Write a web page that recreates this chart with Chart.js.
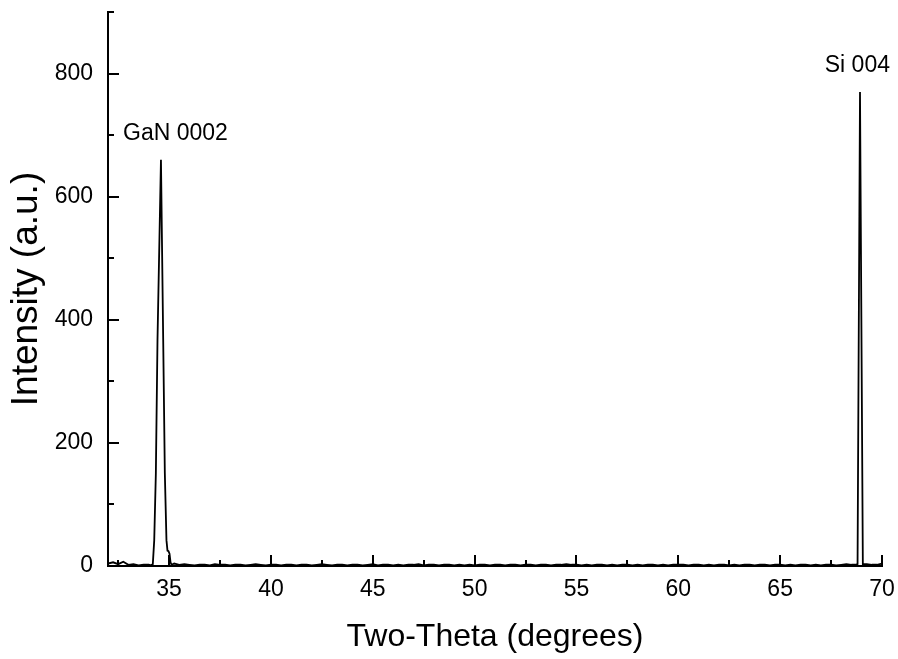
<!DOCTYPE html>
<html>
<head>
<meta charset="utf-8">
<script src="https://cdn.jsdelivr.net/npm/chart.js@4/dist/chart.umd.min.js"></script>
<style>
html,body{margin:0;padding:0;background:#fff;}
#wrap{width:898px;height:659px;}
</style>
</head>
<body>
<div id="wrap"><canvas id="c" width="898" height="659"></canvas></div>
<script>
// ---- data ----
const twoTheta = [
  32.00,32.25,32.50,32.75,33.00,33.25,33.50,33.75,34.00,34.10,
  34.20,34.27,34.35,34.43,34.60,34.71,34.79,34.87,34.92,34.97,35.02,35.07,35.12,
  35.25,35.50,35.75,36.00,36.25,36.50,36.75,37.00,37.25,37.50,37.75,38.00,38.25,38.50,38.75,39.00,39.25,39.50,39.75,
  40.00,40.25,40.50,40.75,41.00,41.25,41.50,41.75,42.00,42.25,42.50,42.75,43.00,43.25,43.50,43.75,44.00,44.25,44.50,44.75,
  45.00,45.25,45.50,45.75,46.00,46.25,46.50,46.75,47.00,47.25,47.50,47.75,48.00,48.25,48.50,48.75,49.00,49.25,49.50,49.75,
  50.00,50.25,50.50,50.75,51.00,51.25,51.50,51.75,52.00,52.25,52.50,52.75,53.00,53.25,53.50,53.75,54.00,54.25,54.50,54.75,
  55.00,55.25,55.50,55.75,56.00,56.25,56.50,56.75,57.00,57.25,57.50,57.75,58.00,58.25,58.50,58.75,59.00,59.25,59.50,59.75,
  60.00,60.25,60.50,60.75,61.00,61.25,61.50,61.75,62.00,62.25,62.50,62.75,63.00,63.25,63.50,63.75,64.00,64.25,64.50,64.75,
  65.00,65.25,65.50,65.75,66.00,66.25,66.50,66.75,67.00,67.25,67.50,67.75,68.00,68.25,68.50,68.70,
  68.80,68.92,69.06,
  69.25,69.50,69.75,70.00
];
const intensity = [
  4,6,3,7,2,3,1,2,2,1,
  3,42,151,367,660,367,151,42,25,24,20,6,2,
  4,2,3,2,1,2,2,1,3,2,2,1,2,2,1,2,3,2,1,
  2,2,1,2,2,1,2,2,1,2,3,2,1,2,2,1,2,2,1,2,
  3,1,2,2,1,2,1,2,2,3,1,2,2,1,2,2,1,2,1,2,
  1,2,2,1,2,2,1,2,2,1,2,2,1,2,2,1,2,2,3,2,
  2,1,2,1,2,2,1,2,1,2,2,1,2,1,2,2,1,2,1,2,
  2,2,1,2,2,1,2,1,2,2,1,2,1,2,2,1,2,2,1,2,
  2,1,2,1,2,2,1,2,1,2,2,1,2,3,2,2,
  3,770,3,
  3,2,2,4
];
const xTicks = [35,40,45,50,55,60,65,70];
const xMinorTicks = [32.5,37.5,42.5,47.5,52.5,57.5,62.5,67.5];
const yTicks = [0,200,400,600,800];
const yMinorTicks = [100,300,500,700,900];
const peakLabels = ['GaN 0002','Si 004'];
const peakLabelX = [35.31,68.79];
const peakLabelY = [692,802];

const FONT = '"Liberation Sans", Arial, Helvetica, sans-serif';
Chart.defaults.font.family = FONT;
Chart.defaults.color = '#000';

const inwardTicks = {
  id: 'inwardTicks',
  afterDraw(chart) {
    const ctx = chart.ctx, xs = chart.scales.x, ys = chart.scales.y, a = chart.chartArea;
    ctx.save();
    ctx.strokeStyle = '#000';
    ctx.lineWidth = 2;
    ctx.beginPath();
    xTicks.forEach(v => { const p = Math.round(xs.getPixelForValue(v)); ctx.moveTo(p, a.bottom); ctx.lineTo(p, a.bottom - 11); });
    xMinorTicks.forEach(v => { const p = Math.round(xs.getPixelForValue(v)); ctx.moveTo(p, a.bottom); ctx.lineTo(p, a.bottom - 6); });
    yTicks.forEach(v => { const p = Math.round(ys.getPixelForValue(v)); ctx.moveTo(a.left, p); ctx.lineTo(a.left + 11, p); });
    yMinorTicks.forEach(v => { const p = Math.round(ys.getPixelForValue(v)); ctx.moveTo(a.left, p); ctx.lineTo(a.left + 6, p); });
    ctx.stroke();
    ctx.fillStyle = '#000';
    ctx.font = '23px ' + FONT;
    ctx.textAlign = 'center';
    ctx.textBaseline = 'alphabetic';
    peakLabels.forEach((t, i) => {
      ctx.fillText(t, xs.getPixelForValue(peakLabelX[i]), ys.getPixelForValue(peakLabelY[i]));
    });
    ctx.restore();
  }
};

new Chart(document.getElementById('c'), {
  type: 'line',
  data: {
    datasets: [{
      data: twoTheta.map((t, i) => ({x: t, y: intensity[i]})),
      borderColor: '#000',
      borderWidth: 1.8,
      pointRadius: 0,
      tension: 0,
      fill: false
    }]
  },
  options: {
    responsive: false,
    animation: false,
    devicePixelRatio: 1,
    layout: {padding: {left: 0, right: 16, top: 12, bottom: 0}},
    plugins: {legend: {display: false}, tooltip: {enabled: false}},
    scales: {
      x: {
        type: 'linear', min: 32, max: 70,
        afterBuildTicks: s => { s.ticks = xTicks.map(v => ({value: v})); },
        afterFit: s => { s.height = 93; s.paddingLeft = 0; s.paddingRight = 0; },
        grid: {display: false, drawTicks: false},
        border: {display: true, color: '#000', width: 2},
        ticks: {color: '#000', font: {size: 23}, padding: 10, maxRotation: 0, autoSkip: false},
        title: {display: true, text: 'Two-Theta (degrees)', color: '#000', font: {size: 32, lineHeight: 1}, padding: {top: 0, bottom: 6}}
      },
      y: {
        type: 'linear', min: 0, max: 900,
        afterBuildTicks: s => { s.ticks = yTicks.map(v => ({value: v})); },
        afterFit: s => { s.width = 108; s.paddingTop = 0; s.paddingBottom = 0; },
        grid: {display: false, drawTicks: false},
        border: {display: true, color: '#000', width: 2},
        ticks: {color: '#000', font: {size: 23}, padding: 15, autoSkip: false},
        title: {display: true, text: 'Intensity (a.u.)', color: '#000', font: {size: 37, lineHeight: 1}, padding: {top: 8, bottom: 0}}
      }
    }
  },
  plugins: [inwardTicks]
});
</script>
</body>
</html>
